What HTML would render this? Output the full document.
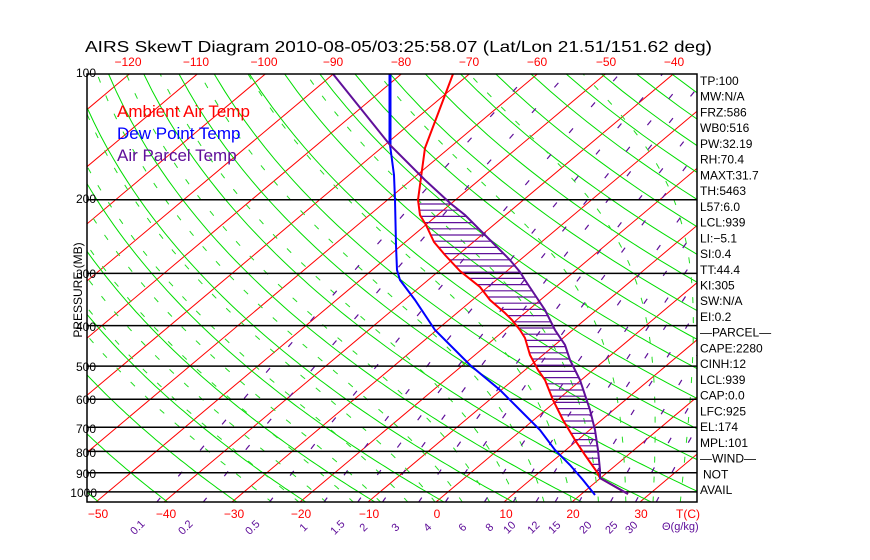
<!DOCTYPE html>
<html><head><meta charset="utf-8">
<style>
html,body{margin:0;padding:0;background:#fff;width:870px;height:560px;overflow:hidden}
svg{display:block}
text{font-family:"Liberation Sans",sans-serif}
</style></head>
<body>
<svg id="s" width="870" height="560" xmlns="http://www.w3.org/2000/svg">
<defs><clipPath id="c"><rect x="87" y="74" width="610" height="428"/></clipPath></defs>
<g id="grid" clip-path="url(#c)"></g>
<g id="snd" clip-path="url(#c)"></g>
<rect x="87" y="74" width="610" height="428" fill="none" stroke="#000" stroke-width="1.5"/>
<text x="85" y="52" font-size="16" textLength="627" lengthAdjust="spacingAndGlyphs">AIRS SkewT Diagram 2010-08-05/03:25:58.07 (Lat/Lon 21.51/151.62 deg)</text>
<g font-size="12" fill="#f00" text-anchor="middle">
<text x="128" y="66">−120</text><text x="196" y="66">−110</text><text x="264" y="66">−100</text><text x="333" y="66">−90</text><text x="401" y="66">−80</text><text x="469" y="66">−70</text><text x="537" y="66">−60</text><text x="606" y="66">−50</text><text x="674" y="66">−40</text>
<text x="98" y="518">−50</text><text x="166" y="518">−40</text><text x="234" y="518">−30</text><text x="301" y="518">−20</text><text x="369" y="518">−10</text><text x="437" y="518">0</text><text x="506" y="518">10</text><text x="573" y="518">20</text><text x="641" y="518">30</text><text x="688" y="518">T(C)</text>
</g>
<g font-size="12" fill="#000" text-anchor="end">
<text x="96" y="77">100</text><text x="96" y="203">200</text><text x="96" y="278">300</text><text x="96" y="331">400</text><text x="96" y="371">500</text><text x="96" y="404">600</text><text x="96" y="433">700</text><text x="96" y="457">800</text><text x="96" y="478">900</text><text x="97" y="497">1000</text>
</g>
<text transform="translate(82,290) rotate(-90)" font-size="12" text-anchor="middle">PRESSURE (MB)</text>
<g font-size="17">
<text x="117" y="117" fill="#f00">Ambient Air Temp</text>
<text x="117" y="139" fill="#00f">Dew Point Temp</text>
<text x="117" y="161" fill="#60109a">Air Parcel Temp</text>
</g>
<g id="mr" font-size="11" fill="#60109a"></g>
<g id="rt" font-size="12" fill="#000"></g>
</svg>
<script>
var NS="http://www.w3.org/2000/svg";
function Y(p){return 74+181.5*Math.log(p/100);}
function X(T,p){return 436+6.8*T+1.19*(502-Y(p));}
function path(g,d,col,w,dash){var e=document.createElementNS(NS,"path");e.setAttribute("d",d);e.setAttribute("stroke",col);e.setAttribute("stroke-width",w);e.setAttribute("fill","none");if(dash)e.setAttribute("stroke-dasharray",dash);g.appendChild(e);}
var G=document.getElementById("grid");
for(var T=-200;T<=60;T+=10){path(G,"M"+X(T,1060)+" "+Y(1060)+"L"+X(T,90)+" "+Y(90),"#f00",1);}
for(var th=170;th<=560;th+=10){var d="";for(var p=1060;p>=90;p-=10){var t=th*Math.pow(p/1000,0.286)-273.15;d+=(d?"L":"M")+X(t,p).toFixed(1)+" "+Y(p).toFixed(1);}path(G,d,"#0d0",1);}
function es(t){return 6.112*Math.exp(17.67*t/(t+243.5));}
for(var t0=-24;t0<=44;t0+=4){var t=t0,d="";for(var p=1060;p>=100;p-=5){d+=(d?"L":"M")+X(t,p).toFixed(1)+" "+Y(p).toFixed(1);var TK=t+273.15,e=es(t),rs=0.622*e/(p-e);var dTdp=(287*TK+2.5e6*rs)/(p*(1004+2.5e6*2.5e6*rs*0.622/(287*TK*TK)));t-=dTdp*5;}path(G,d,"#2d2",1,"6 14");}
var ws=[0.1,0.2,0.5,1,1.5,2,3,4,6,8,10,12,15,20,25,30];
for(var i=0;i<ws.length;i++){var w=ws[i],d="";for(var p=1060;p>=100;p-=20){var e=w*p/(622+w),l=Math.log(e/6.112),td=243.5*l/(17.67-l);d+=(d?"L":"M")+X(td,p).toFixed(1)+" "+Y(p).toFixed(1);}path(G,d,"#60109a",1.2,"6 28");}
[200,300,400,500,600,700,800,900,1000].forEach(function(p){path(G,"M87 "+Y(p).toFixed(1)+"H697","#000",1.5);});
var S=document.getElementById("snd");
var red=[[453,74],[425,148],[422,170],[420,185],[418,200],[420,215],[426,225],[434,242],[445,255],[460,271],[480,287],[490,300],[505,313],[512,320],[520,330],[525,338],[530,355],[538,370],[545,380],[549,390],[553,400],[563,420],[575,440],[585,455],[592,465],[597,472],[600,478],[628,494]];
var pur=[[333,74],[390,145],[425,180],[450,203],[465,215],[480,230],[490,240],[500,250],[510,260],[520,272],[525,280],[535,295],[545,310],[555,330],[565,345],[570,360],[575,370],[580,380],[585,395],[590,410],[595,430],[598,450],[600,470],[600,478],[628,494]];
var blu=[[390,74],[390,145],[392,160],[394,175],[395,200],[396,245],[397,270],[400,280],[415,300],[435,330],[470,365],[500,390],[520,410],[540,430],[555,450],[570,465],[583,480],[595,495]];
function interp(a,y){for(var i=0;i<a.length-1;i++){if(y>=a[i][1]&&y<=a[i+1][1]){var f=(y-a[i][1])/(a[i+1][1]-a[i][1]||1);return a[i][0]+f*(a[i+1][0]-a[i][0]);}}return null;}
var h="";for(var y=204;y<=478;y+=6.2){var a=interp(red,y),b=interp(pur,y);if(a!=null&&b!=null&&b>a)h+="M"+a.toFixed(1)+" "+y.toFixed(1)+"H"+b.toFixed(1);}
path(S,h,"#60109a",1.2);
function pl(a){return "M"+a.map(function(q){return q[0]+" "+q[1];}).join("L");}
path(S,pl(blu),"#00f",2);
path(S,"M390 74V145","#00f",3);
path(S,pl(red),"#f00",2);
path(S,pl(pur),"#60109a",2);
var ml=[["0.1",140],["0.2",188],["0.5",255],["1",306],["1.5",340],["2",366],["3",398],["4",430],["6",465],["8",492],["10",512],["12",536],["15",557],["20",588],["25",614],["30",634]];
var M=document.getElementById("mr");
ml.forEach(function(q){var t=document.createElementNS(NS,"text");t.setAttribute("transform","translate("+q[1]+",530) rotate(-45)");t.setAttribute("text-anchor","middle");t.textContent=q[0];M.appendChild(t);});
var t=document.createElementNS(NS,"text");t.setAttribute("x","662");t.setAttribute("y","530");t.textContent="Θ(g/kg)";M.appendChild(t);
var rl=["TP:100","MW:N/A","FRZ:586","WB0:516","PW:32.19","RH:70.4","MAXT:31.7","TH:5463","L57:6.0","LCL:939","LI:−5.1","SI:0.4","TT:44.4","KI:305","SW:N/A","EI:0.2","—PARCEL—","CAPE:2280","CINH:12","LCL:939","CAP:0.0","LFC:925","EL:174","MPL:101","—WIND—","NOT","AVAIL"];
var R=document.getElementById("rt");
rl.forEach(function(s,i){var t=document.createElementNS(NS,"text");t.setAttribute("x",(s=="NOT"?703:700));t.setAttribute("y",(85+i*15.73).toFixed(1));t.textContent=s;R.appendChild(t);});
</script>
</body></html>
